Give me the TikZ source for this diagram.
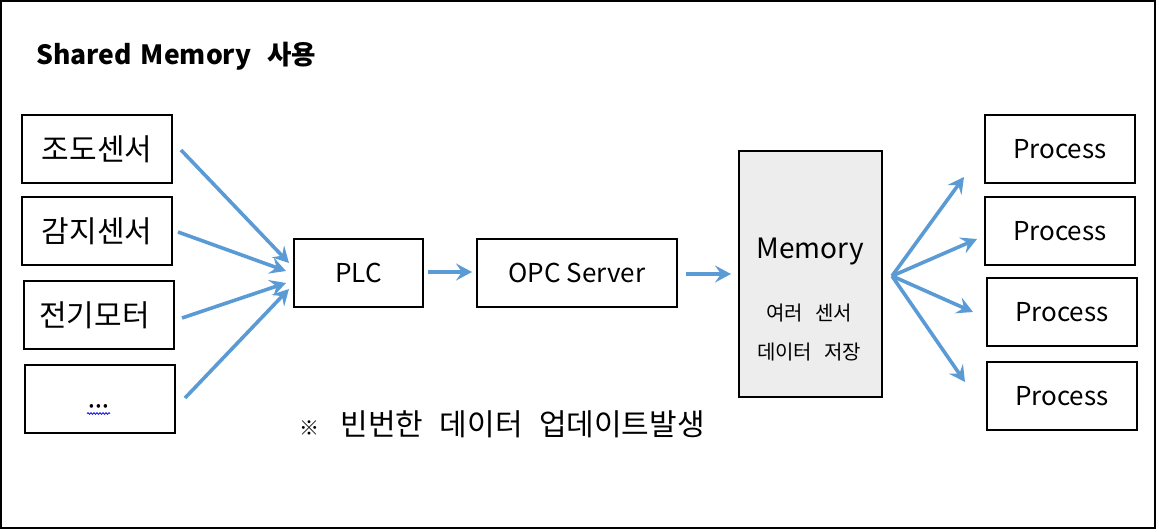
\documentclass[tikz,border=0pt]{standalone}
\usepackage{fontspec}
\setmainfont{Noto Sans CJK KR}
\usetikzlibrary{arrows.meta,decorations.pathmorphing}
\definecolor{arrblue}{HTML}{5B9BD5}
\definecolor{memfill}{HTML}{EDEDED}
\tikzset{
  box/.style={draw=black, line width=1.2pt, fill=white, inner sep=0pt, font=\fontsize{26}{30}\selectfont},
  kbox/.style={box, font=\fontsize{30}{34}\selectfont},
  flow/.style={draw=arrblue, line width=3.6pt, -{Stealth[length=16pt,width=17pt,inset=6pt]}, shorten >=0pt},
}
\begin{document}
\begin{tikzpicture}[x=1pt,y=-1pt]
\useasboundingbox (0,0) rectangle (1159,532);
\draw[line width=2.2pt] (1.1,1.1) rectangle (1155,528);
\node[anchor=west, font=\bfseries\fontsize{26.5}{32}\selectfont] (title) at (33,56) {Shared\hspace{0.1em} Memory\hspace{0.6em}사용};

% sensors
\node[kbox, minimum width=150pt, minimum height=68pt] (s1) at (97,149) {조도센서};
\node[kbox, minimum width=150pt, minimum height=68pt] (s2) at (97,231) {감지센서};
\node[kbox, minimum width=150pt, minimum height=68pt] (s3) at (99,315) {\hspace{-0.3em}전기모터};
\node[box, minimum width=150pt, minimum height=68pt] (s4) at (100,399) {};
\node[font=\fontsize{14}{16}\selectfont, anchor=base] (dots) at (98.5,410) {•\,•\,•};
\coordinate (w1) at (87,413.5);
\coordinate (w2) at (110,413.5);
\draw[blue, line width=0.8pt, decorate, decoration={snake, amplitude=0.8pt, segment length=3pt}] (w1) -- (w2);

\node[box, minimum width=129pt, minimum height=68pt] (plc) at (358.5,273) {PLC};
\node[box, minimum width=200pt, minimum height=68pt] (opc) at (577,273) {OPC Server};
\node[box, fill=memfill, minimum width=143pt, minimum height=246pt] (mem) at (810.5,274) {};
\node[font=\fontsize{28}{32}\selectfont] (memt) at (810,252) {Memory};
\node[font=\fontsize{20}{24}\selectfont] (mem1) at (809,313) {여러\hspace{0.6em}센서};
\node[font=\fontsize{20}{24}\selectfont] (mem2) at (809,352) {데이터\hspace{0.6em}저장};

\node[box, minimum width=150pt, minimum height=68pt] (p1) at (1060,149) {Process};
\node[box, minimum width=150pt, minimum height=68pt] (p2) at (1060,231) {Process};
\node[box, minimum width=150pt, minimum height=68pt] (p3) at (1062,312) {Process};
\node[box, minimum width=150pt, minimum height=68pt] (p4) at (1062,396) {Process};

\node[anchor=west, font=\fontsize{30}{34}\selectfont] (note) at (296,424) {{\fontsize{20}{24}\selectfont ※}\hspace{0.7em}빈번한\hspace{0.55em}데이터\hspace{0.55em}업데이트발생};

% arrows
\coordinate (a1s) at (181,150); \coordinate (a1e) at (289,263);
\coordinate (a2s) at (178,232); \coordinate (a2e) at (286,271);
\coordinate (a3s) at (182,318); \coordinate (a3e) at (286,283);
\coordinate (a4s) at (185,398); \coordinate (a4e) at (289,289);
\draw[flow] (a1s) -- (a1e);
\draw[flow] (a2s) -- (a2e);
\draw[flow] (a3s) -- (a3e);
\draw[flow] (a4s) -- (a4e);
\coordinate (b1s) at (428,272); \coordinate (b1e) at (472,272);
\draw[flow] (b1s) -- (b1e);
\coordinate (b2s) at (686,274); \coordinate (b2e) at (731,274);
\draw[flow] (b2s) -- (b2e);
\coordinate (fan) at (892,276);
\coordinate (f1) at (964,177);
\coordinate (f2) at (977,239);
\coordinate (f3) at (973,312);
\coordinate (f4) at (965,382);
\draw[flow] (fan) -- (f1);
\draw[flow] (fan) -- (f2);
\draw[flow] (fan) -- (f3);
\draw[flow] (fan) -- (f4);
\end{tikzpicture}
\end{document}
